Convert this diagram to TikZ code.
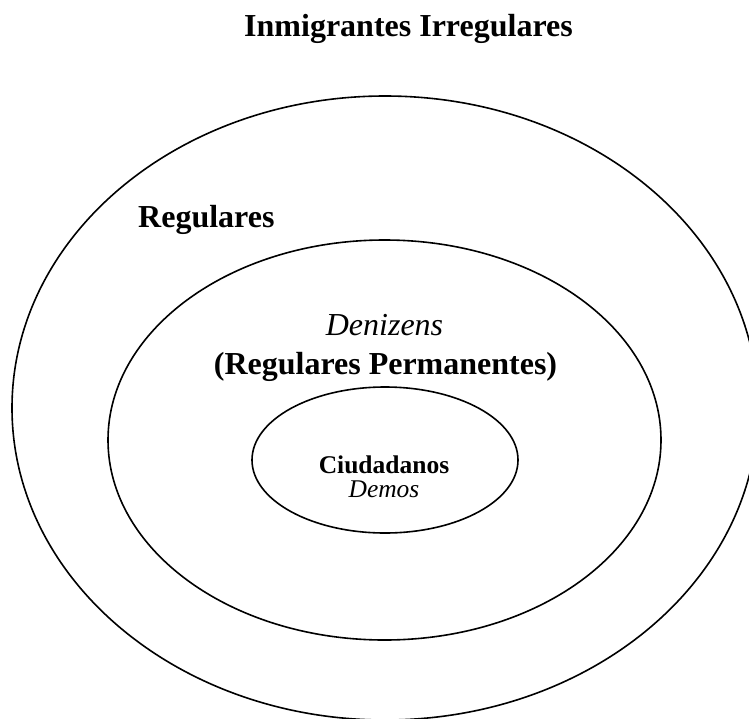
\documentclass[tikz,border=0pt]{standalone}
\usepackage{fontspec}
\setmainfont{Liberation Serif}
\usetikzlibrary{shapes.geometric}
\begin{document}
\begin{tikzpicture}[x=1pt,y=-1pt,
  ring/.style={draw, ellipse, line width=1.6pt, inner sep=0pt},
  big/.style={font=\fontsize{32}{38}\selectfont\bfseries, inner sep=0pt, anchor=base},
  bigit/.style={font=\fontsize{32}{38}\selectfont\itshape, inner sep=0pt, anchor=base},
  small/.style={font=\fontsize{25.5}{30}\selectfont\bfseries, inner sep=0pt, anchor=base},
  smallit/.style={font=\fontsize{25.5}{30}\selectfont\itshape, inner sep=0pt, anchor=base}]
\useasboundingbox (0,0) rectangle (749,718);
\clip (0,0) rectangle (749,718);
\node[ring, minimum width=746pt, minimum height=624pt] (outer) at (385,408) {};
\node[ring, minimum width=553pt, minimum height=400pt] (middle) at (384.5,440) {};
\node[ring, minimum width=266pt, minimum height=146pt] (inner) at (385,460) {};
\node[big] (title) at (408.5,36) {Inmigrantes Irregulares};
\node[big, anchor=base west] (reg) at (138,227) {Regulares};
\node[bigit] (den) at (384.5,335) {Denizens};
\node[big] (perm) at (385.5,374) {(Regulares Permanentes)};
\node[small] (ciu) at (384,473) {Ciudadanos};
\node[smallit] (demos) at (384,497) {Demos};
\end{tikzpicture}
\end{document}
